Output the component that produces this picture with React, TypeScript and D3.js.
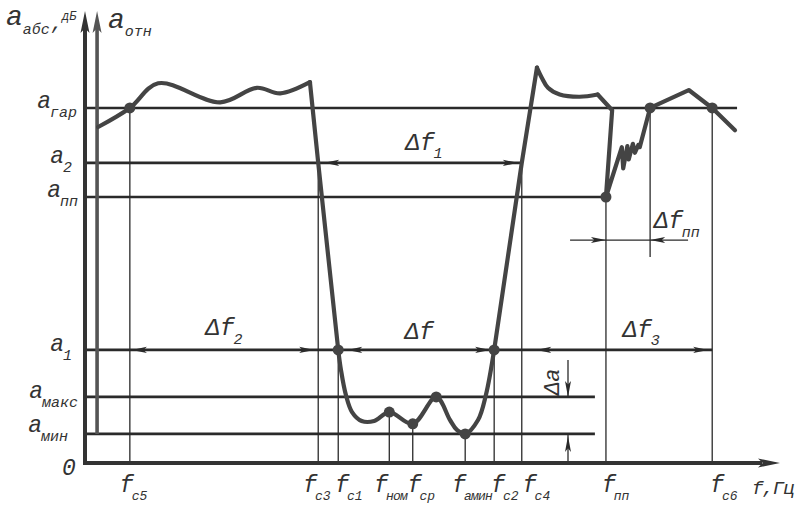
import React from 'react';
import * as d3 from 'd3';

const W = 795;
const H = 505;

// attenuation levels (relative dB units)
const levelKeys = ['гар', '2', 'пп', '1', 'макс', 'мин'];
const levelValues = [31.7, 26.8, 23.75, 10.1, 5.9, 2.6];
// frequency where each level line ends
const levelEnds = [94.5, 63.3, 75.5, 90.9, 73.9, 73.9];

// characteristic frequencies (relative units)
const freqKeys = ['c5', 'c3', 'c1', 'ном', 'ср', 'aмин', 'c2', 'c4', 'пп', 'c6'];
const freqValues = [6.5, 33.8, 36.7, 44.1, 47.5, 55.1, 59.3, 63.3, 75.5, 90.9];
// level where each frequency's extension line starts
const freqTops = [31.7, 26.8, 10.1, 4.55, 3.5, 2.6, 10.1, 26.8, 23.75, 31.7];

// upper frequency of the spurious-passband interval
const fPP2 = 81.9;
const fPP2Bottom = 18.4;

// characteristic curve segments [f, a]
const stopbandLeft: [number, number][] = [[1.9, 30.0], [6.5, 31.7], [10.6, 33.9], [19.6, 32.2], [24.9, 33.5], [28.3, 33.0], [32.6, 34.0]];
const slopeLeft: [number, number][] = [[32.6, 34.0], [33.8, 26.8], [36.7, 10.1]];
const passband: [number, number][] = [[36.7, 10.1], [37.1, 8.3], [37.8, 6.1], [38.7, 4.55], [40.1, 3.75], [41.9, 3.75], [44.1, 4.55], [47.5, 3.5], [50.9, 5.9], [52.9, 3.84], [53.9, 2.95], [55.1, 2.6], [56.96, 3.84], [58.1, 6.07], [59.3, 10.1]];
const slopeRight: [number, number][] = [[59.3, 10.1], [63.3, 26.8], [65.5, 35.3]];
const stopbandRight: [number, number][] = [[65.5, 35.3], [66.2, 34.4], [67.1, 33.5], [68.8, 32.9], [71.7, 32.7], [74.3, 32.9]];
const spuriousRegion: [number, number][] = [[74.3, 32.9], [76.4, 31.5], [75.5, 23.75], [77.8, 28.2], [78.0, 26.3], [78.6, 28.3], [78.8, 27.1], [79.4, 28.5], [79.7, 27.7], [80.2, 28.4], [80.4, 28.2], [81.9, 31.7], [87.5, 33.3], [90.9, 31.7], [94.2, 29.7]];

const markedPoints: [number, number][] = [[6.5, 31.7], [36.7, 10.1], [44.1, 4.55], [47.5, 3.5], [50.9, 5.9], [55.1, 2.6], [59.3, 10.1], [75.5, 23.75], [81.9, 31.7], [90.9, 31.7]];

// dimension values
const dfPPLevel = 19.9;
const dfPPStart = 70.3;
const dfPPEnd = 87.4;
const dA_X = 70.0;
const dA_TopStart = 9.2;
const df3Start = 65.4;
const relAxisF = 1.75;

// layout nudges for labels (pixels)
const levelLabelEnd = [77, 72, 78, 72, 78, 68];
const levelLabelDy = [0, 0, 0, 1, 1, -2];
const freqLabelNudge = [-10, -15, -3, -15, -5, -13, -3, 1, -4, -2];

const x = d3.scaleLinear().domain([0, 100]).range([85, 775]);
const y = d3.scaleLinear().domain([0, 40]).range([463, 15]);

const FONT = "'Liberation Mono', 'DejaVu Sans Mono', monospace";
const TXT = '#333';
const INK = '#2a2a2a';
const CURVE = '#444';

function head(tx: number, ty: number, dx: number, dy: number, L: number, w: number) {
  const nx = -dy, ny = dx;
  const bx = tx - dx * L, by = ty - dy * L;
  const mx = tx - dx * L * 0.78, my = ty - dy * L * 0.78;
  return `M${tx},${ty}L${bx + nx * w},${by + ny * w}L${mx},${my}L${bx - nx * w},${by - ny * w}Z`;
}

const smooth = d3.line<[number, number]>().x(d => x(d[0])).y(d => y(d[1])).curve(d3.curveCatmullRom.alpha(0.5));
const straight = d3.line<[number, number]>().x(d => x(d[0])).y(d => y(d[1]));

const segments: { pts: [number, number][]; s: boolean }[] = [
  { pts: stopbandLeft, s: true },
  { pts: slopeLeft, s: false },
  { pts: passband, s: true },
  { pts: slopeRight, s: false },
  { pts: stopbandRight, s: true },
  { pts: spuriousRegion, s: false },
];

function Sym(p: { x: number; y: number; main: string; sub: string; size: number; subSize: number; subDy: number; anchor?: string; dx?: number; subLs?: number }) {
  return (
    <text x={p.x} y={p.y} fontSize={p.size} fontFamily={FONT} fontStyle="italic" fill={TXT} textAnchor={p.anchor || 'start'}>
      {p.main}
      <tspan fontSize={p.subSize} dy={p.subDy} dx={p.dx ?? -1} letterSpacing={p.subLs ?? 0}>{p.sub}</tspan>
    </text>
  );
}

function DimArrows(p: { y: number; x1: number; x2: number }) {
  return (
    <g fill={INK}>
      <path d={head(p.x1, p.y, -1, 0, 15, 3.2)} />
      <path d={head(p.x2, p.y, 1, 0, 15, 3.2)} />
    </g>
  );
}

export default function App() {
  const lv = (k: string) => levelValues[levelKeys.indexOf(k)];
  const fv = (k: string) => freqValues[freqKeys.indexOf(k)];

  return (
    <svg width={W} height={H} style={{ position: 'absolute', left: 0, top: 0, background: '#fff' }}>
      {/* level lines */}
      {levelValues.map((v, i) => (
        <line key={'l' + i} x1={x(0)} x2={x(levelEnds[i])} y1={y(v)} y2={y(v)} stroke={INK} strokeWidth={2.6} />
      ))}
      {/* frequency extension lines */}
      {freqValues.map((f, i) => (
        <line key={'f' + i} x1={x(f)} x2={x(f)} y1={y(freqTops[i])} y2={y(0)} stroke={INK} strokeWidth={1.3} />
      ))}
      <line x1={x(fPP2)} x2={x(fPP2)} y1={y(lv('гар'))} y2={y(fPP2Bottom)} stroke={INK} strokeWidth={1.3} />

      {/* Δfпп dimension */}
      <line x1={x(dfPPStart)} x2={x(dfPPEnd)} y1={y(dfPPLevel)} y2={y(dfPPLevel)} stroke={INK} strokeWidth={1.3} />
      <path d={head(x(fv('пп')), y(dfPPLevel), 1, 0, 15, 3)} fill={INK} />
      <path d={head(x(fPP2), y(dfPPLevel), -1, 0, 15, 3)} fill={INK} />

      {/* Δa dimension */}
      <line x1={x(dA_X)} x2={x(dA_X)} y1={y(dA_TopStart)} y2={y(lv('макс'))} stroke={INK} strokeWidth={1.3} />
      <path d={head(x(dA_X), y(lv('макс')), 0, 1, 16, 3)} fill={INK} />
      <line x1={x(dA_X)} x2={x(dA_X)} y1={y(0)} y2={y(lv('мин'))} stroke={INK} strokeWidth={1.3} />
      <path d={head(x(dA_X), y(lv('мин')) + 2, 0, -1, 16, 3)} fill={INK} />

      {/* dimension arrows on level lines */}
      <DimArrows y={y(lv('2'))} x1={x(fv('c3')) + 6} x2={x(fv('c4')) - 4} />
      <DimArrows y={y(lv('1'))} x1={x(fv('c5')) + 2} x2={x(fv('c3')) - 4} />
      <DimArrows y={y(lv('1'))} x1={x(fv('c1')) + 9} x2={x(fv('c2')) - 4} />
      <DimArrows y={y(lv('1'))} x1={x(df3Start)} x2={x(fv('c6')) - 4} />

      {/* axes */}
      <line x1={x(0)} x2={x(0)} y1={y(0) + 2} y2={28} stroke="#333" strokeWidth={4} />
      <path d={head(x(0), 11, 0, -1, 22, 4.5)} fill="#333" />
      <line x1={x(relAxisF)} x2={x(relAxisF)} y1={y(lv('мин'))} y2={28} stroke="#555" strokeWidth={3.6} />
      <path d={head(x(relAxisF), 11, 0, -1, 22, 4.5)} fill="#555" />
      <line x1={x(0) - 2} x2={762} y1={y(0)} y2={y(0)} stroke="#333" strokeWidth={4} />
      <path d={head(780, y(0), 1, 0, 22, 4.5)} fill="#333" />

      {/* curve */}
      {segments.map((sg, i) => (
        <path key={'c' + i} d={(sg.s ? smooth : straight)(sg.pts) || ''} fill="none" stroke={CURVE} strokeWidth={4.2} strokeLinejoin="round" strokeLinecap="round" />
      ))}
      {markedPoints.map((p, i) => (
        <circle key={'p' + i} cx={x(p[0])} cy={y(p[1])} r={5.5} fill={CURVE} />
      ))}

      {/* axis titles */}
      <Sym x={6} y={25} main="a" sub="абс" size={28} subSize={15} subDy={9} dx={0} />
      <text x={51} y={29} fontSize={20} fontFamily={FONT} fontStyle="italic" fill={TXT}>,</text>
      <text x={62} y={20} fontSize={12} fontFamily={FONT} fontStyle="italic" fill={TXT}>дБ</text>
      <Sym x={108} y={28} main="a" sub="отн" size={28} subSize={15} subDy={8} dx={0} />

      {/* level labels */}
      {levelKeys.map((k, i) => (
        <Sym key={'ll' + i} x={levelLabelEnd[i]} y={y(levelValues[i]) + levelLabelDy[i]} main="a" sub={k} size={23} subSize={15} subDy={9} anchor="end" />
      ))}
      <text x={62} y={475} fontSize={23} fontFamily={FONT} fontStyle="italic" fill={TXT}>0</text>

      {/* frequency labels */}
      {freqKeys.map((k, i) => (
        <Sym key={'fl' + i} x={x(freqValues[i]) + freqLabelNudge[i]} y={492} main="f" sub={k} size={23} subSize={13} subDy={8} dx={-2} subLs={k.length > 2 ? -0.8 : 0} />
      ))}
      <text x={752} y={494} fontSize={19} fontFamily={FONT} fontStyle="italic" fill={TXT} letterSpacing={-1}>f,Гц</text>

      {/* dimension labels */}
      <Sym x={(x(fv('c3')) + x(fv('c4'))) / 2 + 4} y={y(lv('2')) - 13} main="Δf" sub="1" size={24} subSize={15} subDy={8} anchor="middle" />
      <Sym x={(x(fv('c5')) + x(fv('c3'))) / 2} y={y(lv('1')) - 15} main="Δf" sub="2" size={24} subSize={15} subDy={9} anchor="middle" />
      <Sym x={(x(fv('c1')) + x(fv('c2'))) / 2 + 3} y={y(lv('1')) - 11} main="Δf" sub="" size={24} subSize={15} subDy={8} anchor="middle" />
      <Sym x={(x(df3Start) + x(fv('c6'))) / 2 + 17} y={y(lv('1')) - 13} main="Δf" sub="3" size={24} subSize={15} subDy={8} anchor="middle" />
      <Sym x={654} y={y(dfPPLevel) - 12} main="Δf" sub="пп" size={24} subSize={15} subDy={9} />
      <text transform={`translate(${x(dA_X) - 9},${y(lv('макс')) - 2}) rotate(-90)`} fontSize={22} fontFamily={FONT} fontStyle="italic" fill={TXT}>Δa</text>
    </svg>
  );
}
